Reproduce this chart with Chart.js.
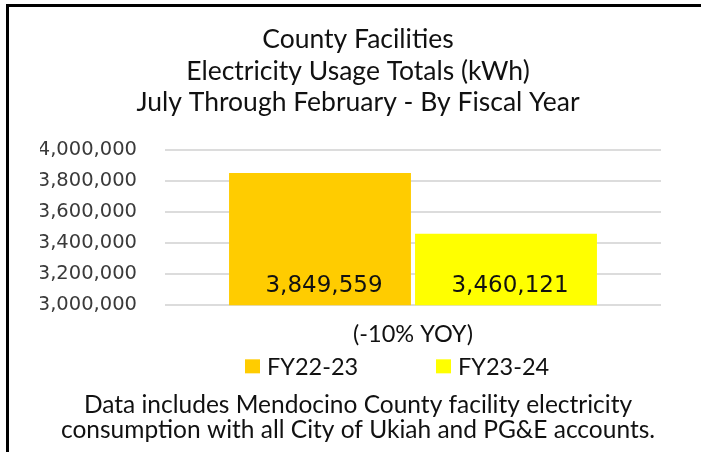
<!DOCTYPE html>
<html>
<head>
<meta charset="utf-8">
<script src="https://cdn.jsdelivr.net/npm/chart.js@4.4.1/dist/chart.umd.min.js"></script>
<style>
  html, body { margin: 0; padding: 0; background: #fff; overflow: hidden; }
  #wrap { position: relative; width: 701px; height: 452px; overflow: hidden; }
  #usageChart { position: absolute; left: 0; top: 0; }
  #frame {
    position: absolute; left: 6px; top: 4px; width: 800px; height: 600px;
    border-top: 3px solid #000; border-left: 3px solid #000; pointer-events: none;
  }
</style>
</head>
<body>
<div id="wrap">
  <canvas id="usageChart" width="716" height="452"></canvas>
  <div id="frame"></div>
</div>
<script>
const categories = ["(-10% YOY)"];
const seriesNames = ["FY22-23", "FY23-24"];
const fy2223 = [3849559];
const fy2324 = [3460121];
const barColors = ["#FFCC00", "#FFFF00"];
const titleLines = [
  "County Facilities",
  "Electricity Usage Totals (kWh)",
  "July Through February - By Fiscal Year"
];
const footerLines = [
  "Data includes Mendocino County facility electricity",
  "consumption with all City of Ukiah and PG&E accounts."
];

const fmt = (v) => Number(v).toLocaleString("en-US");

// value labels drawn inside each bar, near its base
const barValueLabels = {
  id: "barValueLabels",
  afterDatasetsDraw(chart) {
    const ctx = chart.ctx;
    const base = chart.scales.y.bottom;
    ctx.save();
    ctx.font = "23px 'DejaVu Sans'";
    ctx.fillStyle = "#111";
    ctx.textAlign = "center";
    ctx.textBaseline = "middle";
    chart.data.datasets.forEach((ds, i) => {
      chart.getDatasetMeta(i).data.forEach((bar, j) => {
        ctx.fillText(fmt(ds.data[j]), bar.x + 4, base - 19);
      });
    });
    ctx.restore();
  }
};

// Excel-style legend: swatches under the plot, spaced wide apart
const wideLegend = {
  id: "wideLegend",
  afterDraw(chart) {
    const ctx = chart.ctx;
    const area = chart.chartArea;
    const mid = (area.left + area.right) / 2;
    const y = area.bottom + 61;
    const offsets = [-168, 23];
    ctx.save();
    ctx.font = "23.5px Lato";
    ctx.textBaseline = "middle";
    ctx.textAlign = "left";
    chart.data.datasets.forEach((ds, i) => {
      const x = mid + offsets[i];
      ctx.fillStyle = ds.backgroundColor;
      ctx.fillRect(x, y - 7, 15, 14);
      ctx.fillStyle = "#111";
      ctx.fillText(ds.label, x + 22, y + 1);
    });
    ctx.restore();
  }
};

const ctx = document.getElementById("usageChart").getContext("2d");

new Chart(ctx, {
  type: "bar",
  data: {
    labels: categories,
    datasets: [
      { label: seriesNames[0], data: fy2223, backgroundColor: barColors[0] },
      { label: seriesNames[1], data: fy2324, backgroundColor: barColors[1] }
    ]
  },
  options: {
    responsive: false,
    animation: false,
    categoryPercentage: 0.75,
    barPercentage: 0.978,
    layout: { padding: { left: 40, right: 40, top: 0, bottom: 0 } },
    scales: {
      x: {
        grid: { display: false },
        border: { display: false },
        ticks: {
          color: "#111",
          font: { family: "Lato", size: 23.5, lineHeight: 1.2 },
          padding: 7
        }
      },
      y: {
        min: 3000000,
        max: 4000000,
        grid: { color: "#dcdcdc", lineWidth: 2, drawTicks: false },
        border: { display: false },
        afterFit(scale) { scale.width = 125; },
        ticks: {
          stepSize: 200000,
          autoSkip: false,
          color: "#3a3a3a",
          padding: 28,
          font: { family: "DejaVu Sans", size: 19.5 },
          callback: (v) => fmt(v)
        }
      },
      // empty right-hand spacer so the plot sits where the original does
      spacer: {
        type: "linear",
        position: "right",
        grid: { display: false },
        border: { display: false },
        ticks: { display: false },
        afterFit(scale) { scale.width = 15; }
      }
    },
    plugins: {
      title: {
        display: true,
        text: titleLines,
        color: "#111",
        font: { family: "Lato", size: 26.5, weight: "normal", lineHeight: 1.19 },
        padding: { top: 24, bottom: 31 }
      },
      subtitle: {
        display: true,
        position: "bottom",
        text: footerLines,
        color: "#111",
        font: { family: "Lato", size: 24.5, weight: "normal", lineHeight: 1.03 },
        padding: { top: 37, bottom: 9 }
      },
      legend: { display: false },
      tooltip: { enabled: false }
    }
  },
  plugins: [barValueLabels, wideLegend]
});
</script>
</body>
</html>
